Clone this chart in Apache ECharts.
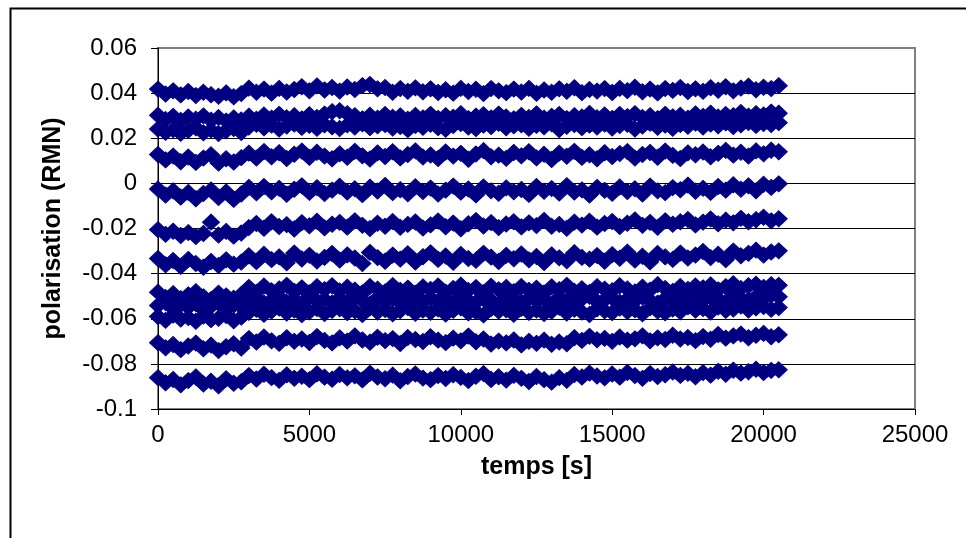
<!DOCTYPE html>
<html><head><meta charset="utf-8">
<script src="https://cdn.jsdelivr.net/npm/echarts@6/dist/echarts.min.js"></script>
<style>html,body{margin:0;padding:0;background:#fff}#c{width:966px;height:538px}</style>
</head><body><div id="c"></div>
<script>
const times = [0,250,500,750,1000,1250,1500,1750,2000,2250,2500,2750,3000,3250,3500,3750,4000,4250,4500,4750,5000,5250,5500,5750,6000,6250,6500,6750,7000,7250,7500,7750,8000,8250,8500,8750,9000,9250,9500,9750,10000,10250,10500,10750,11000,11250,11500,11750,12000,12250,12500,12750,13000,13250,13500,13750,14000,14250,14500,14750,15000,15250,15500,15750,16000,16250,16500,16750,17000,17250,17500,17750,18000,18250,18500,18750,19000,19250,19500,19750,20000,20250,20500];

const s1 = [0.0418,0.0396,0.0410,0.0392,0.0407,0.0389,0.0404,0.0393,0.0386,0.0401,0.0384,0.0398,
0.0422,0.0404,0.0418,0.0400,0.0421,0.0405,0.0416,0.0428,0.0410,0.0432,0.0414,0.0425,
0.0409,0.0427,0.0416,0.0433,0.0438,0.0419,0.0425,0.0404,0.0420,0.0408,0.0423,0.0406,
0.0419,0.0403,0.0415,0.0400,0.0421,0.0407,0.0417,0.0398,0.0420,0.0410,0.0402,0.0418,
0.0405,0.0421,0.0399,0.0414,0.0404,0.0419,0.0408,0.0424,0.0402,0.0416,0.0409,0.0420,
0.0403,0.0421,0.0411,0.0426,0.0406,0.0418,0.0401,0.0420,0.0412,0.0425,0.0407,0.0419,
0.0408,0.0424,0.0413,0.0428,0.0410,0.0422,0.0431,0.0415,0.0426,0.0420,0.0433];

const s2 = [0.0302,0.0283,0.0297,0.0279,0.0294,0.0284,0.0299,0.0280,0.0292,0.0276,0.0290,0.0281,
0.0298,0.0284,0.0303,0.0289,0.0306,0.0291,0.0300,0.0286,0.0304,0.0292,0.0307,0.0318,
0.0322,0.0309,0.0300,0.0286,0.0302,0.0289,0.0305,0.0293,0.0299,0.0284,0.0301,0.0290,
0.0306,0.0288,0.0300,0.0293,0.0309,0.0287,0.0298,0.0304,0.0290,0.0307,0.0294,0.0286,
0.0301,0.0292,0.0308,0.0289,0.0297,0.0305,0.0287,0.0300,0.0294,0.0310,0.0291,0.0303,
0.0288,0.0305,0.0296,0.0309,0.0292,0.0300,0.0287,0.0306,0.0295,0.0302,0.0289,0.0308,
0.0297,0.0311,0.0294,0.0305,0.0300,0.0314,0.0298,0.0309,0.0303,0.0316,0.0311];

const s3 = [0.0241,0.0226,0.0238,0.0222,0.0235,0.0246,0.0224,0.0237,0.0221,0.0233,0.0243,0.0225,
0.0250,0.0262,0.0246,0.0258,0.0241,0.0254,0.0263,0.0248,0.0257,0.0244,0.0260,0.0251,
0.0243,0.0259,0.0250,0.0264,0.0247,0.0255,0.0261,0.0245,0.0252,0.0238,0.0256,0.0249,
0.0262,0.0247,0.0240,0.0256,0.0265,0.0250,0.0243,0.0258,0.0252,0.0266,0.0246,0.0255,
0.0260,0.0244,0.0257,0.0251,0.0264,0.0239,0.0253,0.0261,0.0247,0.0258,0.0250,0.0263,
0.0245,0.0256,0.0262,0.0241,0.0254,0.0266,0.0249,0.0258,0.0244,0.0261,0.0253,0.0267,
0.0250,0.0263,0.0255,0.0268,0.0252,0.0260,0.0270,0.0257,0.0265,0.0261,0.0269];

const s4 = [0.0128,0.0104,0.0121,0.0096,0.0117,0.0093,0.0112,0.0127,0.0090,0.0109,0.0095,0.0114,
0.0134,0.0112,0.0141,0.0118,0.0136,0.0110,0.0129,0.0143,0.0115,0.0138,0.0121,0.0109,
0.0131,0.0116,0.0142,0.0122,0.0108,0.0135,0.0119,0.0140,0.0113,0.0128,0.0144,0.0117,
0.0126,0.0110,0.0139,0.0121,0.0133,0.0107,0.0130,0.0145,0.0118,0.0125,0.0111,0.0137,
0.0122,0.0140,0.0113,0.0129,0.0106,0.0134,0.0120,0.0142,0.0115,0.0127,0.0109,0.0136,
0.0119,0.0132,0.0141,0.0112,0.0128,0.0137,0.0116,0.0143,0.0124,0.0110,0.0135,0.0127,
0.0139,0.0118,0.0133,0.0146,0.0125,0.0138,0.0121,0.0144,0.0131,0.0147,0.0140];

const s5 = [-0.0025,-0.0052,-0.0033,-0.0061,-0.0040,-0.0068,-0.0045,-0.0029,-0.0063,-0.0038,-0.0071,-0.0047,
-0.0018,-0.0042,-0.0014,-0.0037,-0.0022,-0.0048,-0.0026,-0.0011,-0.0040,-0.0019,-0.0045,-0.0030,
-0.0013,-0.0038,-0.0024,-0.0050,-0.0017,-0.0034,-0.0009,-0.0041,-0.0028,-0.0046,-0.0015,-0.0036,
-0.0021,-0.0047,-0.0030,-0.0012,-0.0039,-0.0025,-0.0051,-0.0016,-0.0033,-0.0044,-0.0020,-0.0037,
-0.0027,-0.0049,-0.0014,-0.0035,-0.0023,-0.0043,-0.0010,-0.0038,-0.0029,-0.0052,-0.0018,-0.0031,
-0.0044,-0.0016,-0.0036,-0.0024,-0.0047,-0.0012,-0.0033,-0.0041,-0.0019,-0.0028,-0.0008,-0.0035,
-0.0022,-0.0040,-0.0014,-0.0030,-0.0006,-0.0026,-0.0011,-0.0033,-0.0004,-0.0018,-0.0002];

const s6 = [-0.0205,-0.0226,-0.0212,-0.0231,-0.0218,-0.0236,-0.0222,-0.0172,-0.0229,-0.0213,-0.0234,-0.0220,
-0.0196,-0.0178,-0.0199,-0.0170,-0.0191,-0.0183,-0.0202,-0.0174,-0.0188,-0.0168,-0.0197,-0.0181,
-0.0173,-0.0194,-0.0166,-0.0186,-0.0200,-0.0177,-0.0190,-0.0169,-0.0195,-0.0182,-0.0171,-0.0198,
-0.0184,-0.0167,-0.0192,-0.0176,-0.0201,-0.0179,-0.0165,-0.0189,-0.0174,-0.0196,-0.0180,-0.0170,
-0.0193,-0.0175,-0.0187,-0.0164,-0.0190,-0.0182,-0.0199,-0.0172,-0.0185,-0.0168,-0.0194,-0.0178,
-0.0169,-0.0191,-0.0177,-0.0162,-0.0186,-0.0173,-0.0195,-0.0166,-0.0181,-0.0170,-0.0160,-0.0184,
-0.0172,-0.0158,-0.0179,-0.0163,-0.0175,-0.0155,-0.0170,-0.0161,-0.0150,-0.0166,-0.0157];

const s7 = [-0.0333,-0.0361,-0.0342,-0.0368,-0.0337,-0.0355,-0.0372,-0.0346,-0.0364,-0.0339,-0.0358,-0.0349,
-0.0321,-0.0347,-0.0314,-0.0338,-0.0326,-0.0352,-0.0309,-0.0335,-0.0319,-0.0344,-0.0328,-0.0311,
-0.0340,-0.0317,-0.0331,-0.0355,-0.0306,-0.0329,-0.0345,-0.0318,-0.0336,-0.0312,-0.0349,-0.0325,
-0.0308,-0.0337,-0.0322,-0.0350,-0.0315,-0.0333,-0.0341,-0.0310,-0.0327,-0.0346,-0.0319,-0.0334,
-0.0313,-0.0339,-0.0324,-0.0351,-0.0317,-0.0330,-0.0343,-0.0307,-0.0328,-0.0336,-0.0320,-0.0345,
-0.0316,-0.0332,-0.0305,-0.0340,-0.0323,-0.0348,-0.0311,-0.0326,-0.0337,-0.0309,-0.0331,-0.0318,
-0.0302,-0.0329,-0.0314,-0.0338,-0.0300,-0.0321,-0.0310,-0.0296,-0.0318,-0.0304,-0.0299];

const s8 = [-0.0482,-0.0506,-0.0489,-0.0511,-0.0494,-0.0480,-0.0503,-0.0515,-0.0487,-0.0499,-0.0509,-0.0492,
-0.0461,-0.0483,-0.0455,-0.0476,-0.0468,-0.0452,-0.0479,-0.0463,-0.0485,-0.0458,-0.0471,-0.0454,
-0.0477,-0.0460,-0.0473,-0.0486,-0.0457,-0.0469,-0.0481,-0.0453,-0.0474,-0.0464,-0.0487,-0.0459,
-0.0470,-0.0455,-0.0482,-0.0466,-0.0451,-0.0475,-0.0462,-0.0484,-0.0456,-0.0472,-0.0461,-0.0480,
-0.0457,-0.0474,-0.0465,-0.0486,-0.0459,-0.0471,-0.0452,-0.0478,-0.0467,-0.0483,-0.0458,-0.0469,
-0.0476,-0.0454,-0.0468,-0.0481,-0.0460,-0.0473,-0.0449,-0.0466,-0.0479,-0.0457,-0.0470,-0.0455,
-0.0463,-0.0450,-0.0472,-0.0458,-0.0445,-0.0466,-0.0454,-0.0447,-0.0461,-0.0449,-0.0452];

const s9 = [-0.0541,-0.0528,-0.0556,-0.0537,-0.0549,-0.0533,-0.0560,-0.0545,-0.0531,-0.0553,-0.0539,-0.0547,
-0.0524,-0.0509,-0.0531,-0.0518,-0.0503,-0.0527,-0.0512,-0.0536,-0.0506,-0.0521,-0.0515,-0.0530,
-0.0510,-0.0526,-0.0503,-0.0519,-0.0534,-0.0508,-0.0522,-0.0513,-0.0529,-0.0504,-0.0517,-0.0525,
-0.0507,-0.0523,-0.0516,-0.0531,-0.0502,-0.0520,-0.0528,-0.0511,-0.0518,-0.0533,-0.0505,-0.0521,
-0.0526,-0.0509,-0.0522,-0.0514,-0.0535,-0.0506,-0.0519,-0.0530,-0.0512,-0.0501,-0.0524,-0.0516,
-0.0508,-0.0527,-0.0513,-0.0520,-0.0504,-0.0518,-0.0531,-0.0510,-0.0523,-0.0507,-0.0515,-0.0500,
-0.0519,-0.0505,-0.0512,-0.0526,-0.0498,-0.0510,-0.0517,-0.0502,-0.0508,-0.0495,-0.0503];

const s10 = [-0.0590,-0.0607,-0.0584,-0.0601,-0.0595,-0.0611,-0.0588,-0.0604,-0.0598,-0.0586,-0.0609,-0.0593,
-0.0572,-0.0558,-0.0580,-0.0566,-0.0553,-0.0575,-0.0561,-0.0582,-0.0569,-0.0555,-0.0577,-0.0563,
-0.0556,-0.0573,-0.0565,-0.0581,-0.0552,-0.0570,-0.0559,-0.0578,-0.0564,-0.0550,-0.0576,-0.0562,
-0.0571,-0.0557,-0.0579,-0.0563,-0.0551,-0.0574,-0.0568,-0.0583,-0.0555,-0.0566,-0.0560,-0.0580,
-0.0554,-0.0572,-0.0561,-0.0577,-0.0567,-0.0549,-0.0575,-0.0558,-0.0570,-0.0581,-0.0556,-0.0565,
-0.0573,-0.0553,-0.0568,-0.0560,-0.0578,-0.0551,-0.0566,-0.0574,-0.0557,-0.0569,-0.0547,-0.0562,
-0.0555,-0.0570,-0.0548,-0.0563,-0.0557,-0.0544,-0.0561,-0.0552,-0.0546,-0.0558,-0.0550];

const s11 = [-0.0706,-0.0729,-0.0714,-0.0737,-0.0721,-0.0708,-0.0733,-0.0717,-0.0741,-0.0724,-0.0711,-0.0730,
-0.0688,-0.0703,-0.0681,-0.0698,-0.0709,-0.0684,-0.0700,-0.0690,-0.0705,-0.0679,-0.0696,-0.0707,
-0.0685,-0.0699,-0.0676,-0.0694,-0.0704,-0.0682,-0.0697,-0.0688,-0.0710,-0.0683,-0.0692,-0.0701,
-0.0680,-0.0695,-0.0706,-0.0686,-0.0698,-0.0677,-0.0702,-0.0690,-0.0712,-0.0699,-0.0707,-0.0694,
-0.0716,-0.0700,-0.0709,-0.0695,-0.0713,-0.0703,-0.0711,-0.0684,-0.0696,-0.0678,-0.0693,-0.0687,
-0.0700,-0.0681,-0.0695,-0.0689,-0.0676,-0.0698,-0.0685,-0.0692,-0.0673,-0.0690,-0.0683,-0.0697,
-0.0679,-0.0691,-0.0670,-0.0686,-0.0676,-0.0668,-0.0684,-0.0673,-0.0665,-0.0680,-0.0671];

const s12 = [-0.0861,-0.0884,-0.0869,-0.0893,-0.0874,-0.0858,-0.0889,-0.0877,-0.0897,-0.0866,-0.0886,-0.0879,
-0.0852,-0.0867,-0.0846,-0.0861,-0.0873,-0.0849,-0.0864,-0.0855,-0.0870,-0.0844,-0.0859,-0.0868,
-0.0847,-0.0862,-0.0853,-0.0871,-0.0842,-0.0858,-0.0866,-0.0850,-0.0875,-0.0856,-0.0845,-0.0863,
-0.0870,-0.0852,-0.0865,-0.0848,-0.0860,-0.0874,-0.0855,-0.0843,-0.0869,-0.0857,-0.0872,-0.0851,
-0.0864,-0.0878,-0.0856,-0.0870,-0.0881,-0.0861,-0.0873,-0.0847,-0.0858,-0.0841,-0.0854,-0.0862,
-0.0845,-0.0859,-0.0838,-0.0852,-0.0864,-0.0843,-0.0856,-0.0848,-0.0836,-0.0851,-0.0842,-0.0857,
-0.0839,-0.0850,-0.0833,-0.0846,-0.0828,-0.0841,-0.0835,-0.0824,-0.0838,-0.0829,-0.0826];

const allSeries = [s1, s2, s3, s4, s5, s6, s7, s8, s9, s10, s11, s12];

const xTitle = 'temps [s]';
const yTitle = 'polarisation (RMN)';
const xMin = 0, xMax = 25000, xStep = 5000;
const yMin = -0.1, yMax = 0.06, yStep = 0.02;

const FONT = '"Liberation Sans", Arial, sans-serif';
const chart = echarts.init(document.getElementById('c'), null, {renderer: 'canvas'});

const series = allSeries.map((vals, k) => ({
  type: 'scatter',
  name: 'S' + (k + 1),
  symbol: 'diamond',
  symbolSize: [17, 16],
  silent: true,
  itemStyle: {color: '#000080', borderColor: '#000080', borderWidth: 1, opacity: 1},
  data: times.map((t, i) => [t, vals[i]])
}));

chart.setOption({
  animation: false,
  backgroundColor: '#ffffff',
  graphic: [{
    type: 'rect', left: 8, top: 6, z: -10,
    shape: {x: 0, y: 0, width: 1000, height: 600},
    style: {fill: 'none', stroke: '#000', lineWidth: 2}
  }],
  grid: {left: 158, top: 48, right: 51, bottom: 129, show: true, borderColor: '#808080', borderWidth: 2, backgroundColor: 'transparent'},
  xAxis: {
    type: 'value', min: xMin, max: xMax, interval: xStep,
    name: xTitle, nameLocation: 'middle', nameGap: 46,
    nameTextStyle: {fontFamily: FONT, fontSize: 25, fontWeight: 'bold', color: '#000'},
    axisLine: {show: true, onZero: false, lineStyle: {color: '#000', width: 1}},
    axisTick: {show: true, inside: false, length: 6, lineStyle: {color: '#000'}},
    axisLabel: {fontFamily: FONT, fontSize: 24, color: '#000', margin: 14,
      formatter: v => String(v)},
    splitLine: {show: false}
  },
  yAxis: {
    type: 'value', min: yMin, max: yMax, interval: yStep,
    name: yTitle, nameLocation: 'middle', nameGap: 92, nameRotate: 90,
    nameTextStyle: {fontFamily: FONT, fontSize: 25, fontWeight: 'bold', color: '#000'},
    axisLine: {show: true, onZero: false, lineStyle: {color: '#000', width: 1}},
    axisTick: {show: true, inside: false, length: 7, lineStyle: {color: '#000'}},
    axisLabel: {fontFamily: FONT, fontSize: 24, color: '#000', margin: 21,
      formatter: v => String(parseFloat(v.toFixed(2)))},
    splitLine: {show: true, lineStyle: {color: ['#000','#000','#000','#000','#000','#000','#000','#000','#808080'], width: 1}}
  },
  series: series
});
</script>
</body></html>
